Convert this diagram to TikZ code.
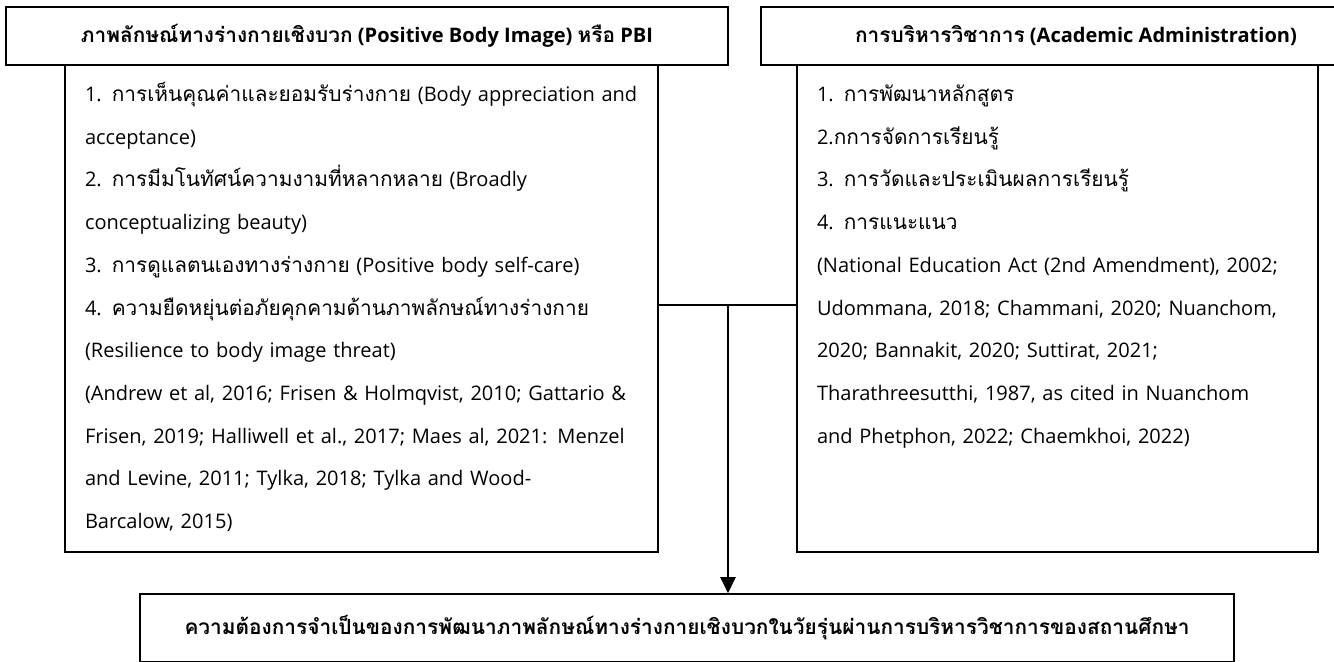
\documentclass[tikz,border=0pt]{standalone}
\usepackage{fontspec}
\setmainfont{Open Sans}
\newfontfamily\thaifont[Script=Thai,Scale=1.04]{Loma}
% switch to the Thai face for Thai letters
\XeTeXinterchartokenstate=1
\newXeTeXintercharclass\thaichars
\count255="0E00
\loop
  \XeTeXcharclass\count255=\thaichars
  \ifnum\count255<"0E7F \advance\count255 by 1 \repeat
\XeTeXinterchartoks 0 \thaichars = {\begingroup\thaifont}
\XeTeXinterchartoks 4095 \thaichars = {\begingroup\thaifont}
\XeTeXinterchartoks \thaichars 0 = {\endgroup}
\XeTeXinterchartoks \thaichars 4095 = {\endgroup}
\usepackage{tikz}
\usetikzlibrary{arrows.meta,positioning}
\tikzset{
  hdr/.style={draw,line width=0.9pt,font=\bfseries\fontsize{11.4}{13}\selectfont,align=center,inner sep=0pt},
  body/.style={draw,line width=0.9pt,font=\fontsize{11.4}{24.3}\selectfont,align=left,
    inner xsep=4mm,inner ysep=0pt,text height=0.73cm,text depth=9.01cm},
  ln/.style={line width=1.2pt},
  ar/.style={-{Triangle[length=3.2mm,width=3mm]},line width=1.2pt}
}

\begin{document}
\begin{tikzpicture}
\clip (0,0) rectangle (26.68,-13.22);
% left column
\node[body,text width=11.06cm] (pbilist) at (7.23,-6.17) {%
1. การเห็นคุณค่าและยอมรับร่างกาย (Body appreciation and\\
acceptance)\\
2. การมีมโนทัศน์ความงามที่หลากหลาย (Broadly\\
conceptualizing beauty)\\
3. การดูแลตนเองทางร่างกาย (Positive body self-care)\\
4. ความยืดหยุ่นต่อภัยคุกคามด้านภาพลักษณ์ทางร่างกาย\\
(Resilience to body image threat)\\
(Andrew et al, 2016; Frisen \& Holmqvist, 2010; Gattario \&\\
Frisen, 2019; Halliwell et al., 2017; Maes al, 2021: Menzel\\
and Levine, 2011; Tylka, 2018; Tylka and Wood-\\
Barcalow, 2015)};
\node[hdr,minimum width=14.44cm,minimum height=1.16cm,fill=white] (pbi) at (7.34,-0.72)
  {ภาพลักษณ์ทางร่างกายเชิงบวก (Positive Body Image) หรือ PBI};
% right column
\node[body,text width=9.62cm] (acadlist) at (21.15,-6.17) {%
1. การพัฒนาหลักสูตร\\
2.กการจัดการเรียนรู้\\
3. การวัดและประเมินผลการเรียนรู้\\
4. การแนะแนว\\
(National Education Act (2nd Amendment), 2002;\\
Udommana, 2018; Chammani, 2020; Nuanchom,\\
2020; Bannakit, 2020; Suttirat, 2021;\\
Tharathreesutthi, 1987, as cited in Nuanchom\\
and Phetphon, 2022; Chaemkhoi, 2022)};
\node[hdr,minimum width=12.6cm,minimum height=1.16cm,fill=white] (acad) at (21.52,-0.72)
  {การบริหารวิชาการ (Academic Administration)};
% outcome
\node[hdr,minimum width=21.88cm,minimum height=1.36cm] (need) at (13.74,-12.56)
  {ความต้องการจำเป็นของการพัฒนาภาพลักษณ์ทางร่างกายเชิงบวกในวัยรุ่นผ่านการบริหารวิชาการของสถานศึกษา};
% connectors
\coordinate (hub) at (14.56,-6.1);
\draw[ln] ([yshift=0.7mm]pbilist.east) -- ([yshift=0.7mm]acadlist.west);
\draw[ar] (hub) -- (hub |- need.north);
\end{tikzpicture}
\end{document}
